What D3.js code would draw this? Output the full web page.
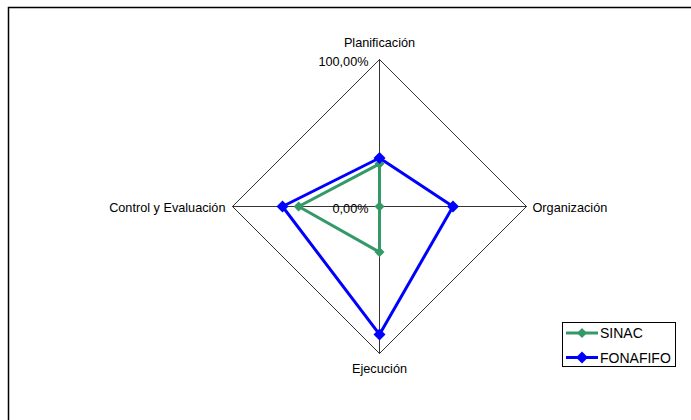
<!DOCTYPE html>
<html>
<head>
<meta charset="utf-8">
<script src="https://cdn.jsdelivr.net/npm/d3@7/dist/d3.min.js"></script>
<style>
  body { margin: 0; background: #fff; }
  text { font-family: "Liberation Sans", Arial, sans-serif; font-size: 12.7px; fill: #000; }
  .legend-text { font-size: 14px; }
</style>
</head>
<body>
<svg></svg>
<script>
'use strict';
// chart data
var categories = ['Planificación', 'Organización', 'Ejecución', 'Control y Evaluación'];
var seriesNames = ['SINAC', 'FONAFIFO'];
var sinacValues = [0.29, 0.00, 0.31, 0.55];
var fonafifoValues = [0.33, 0.50, 0.87, 0.66];
var tickValues = [0, 1];
var tickLabels = ['0,00%', '100,00%'];

var canvasWidth = 691;
var canvasHeight = 420;
var cx = 379.5;
var cy = 206.5;
var radius = 147;

var svg = d3.select('svg')
  .attr('width', canvasWidth)
  .attr('height', canvasHeight);

// outer frame
svg.append('rect')
  .attr('x', 8.5).attr('y', 7.5)
  .attr('width', 700).attr('height', 430)
  .attr('fill', 'none')
  .attr('stroke', '#000')
  .attr('stroke-width', 1.5);

var rScale = d3.scaleLinear().domain([0, 1]).range([0, radius]);
var angle = d3.scaleLinear().domain([0, categories.length]).range([0, 2 * Math.PI]);

function point(i, v) {
  var a = angle(i);
  return [cx + rScale(v) * Math.sin(a), cy - rScale(v) * Math.cos(a)];
}

var chart = svg.append('g');

// outer grid (100% level)
chart.append('path')
  .attr('d', d3.line()(categories.map(function(c, i) { return point(i, 1); })) + 'Z')
  .attr('fill', 'none')
  .attr('stroke', '#000')
  .attr('stroke-width', 0.8);

// spokes
chart.selectAll('.spoke').data(categories).enter().append('line')
  .attr('class', 'spoke')
  .attr('x1', cx).attr('y1', cy)
  .attr('x2', function(d, i) { return point(i, 1)[0]; })
  .attr('y2', function(d, i) { return point(i, 1)[1]; })
  .attr('stroke', '#000')
  .attr('stroke-width', 0.8);

// axis tick labels on the top spoke
chart.selectAll('.tick').data(tickValues).enter().append('text')
  .attr('class', 'tick')
  .attr('x', cx - 11)
  .attr('y', function(d) { return cy - rScale(d) + 6; })
  .attr('text-anchor', 'end')
  .text(function(d, i) { return tickLabels[i]; });

// category labels
var labelPos = [
  { dx: 0, dy: -13, anchor: 'middle' },
  { dx: 6, dy: 5, anchor: 'start' },
  { dx: 0, dy: 19, anchor: 'middle' },
  { dx: -7, dy: 5, anchor: 'end' }
];
chart.selectAll('.cat').data(categories).enter().append('text')
  .attr('class', 'cat')
  .attr('x', function(d, i) { return point(i, 1)[0] + labelPos[i].dx; })
  .attr('y', function(d, i) { return point(i, 1)[1] + labelPos[i].dy; })
  .attr('text-anchor', function(d, i) { return labelPos[i].anchor; })
  .text(function(d) { return d; });

var series = [
  { name: seriesNames[0], values: sinacValues, color: '#339966', size: 5 },
  { name: seriesNames[1], values: fonafifoValues, color: '#0000FF', size: 6 }
];

function diamond(x, y, s) {
  return 'M' + x + ',' + (y - s) + 'L' + (x + s) + ',' + y + 'L' + x + ',' + (y + s) + 'L' + (x - s) + ',' + y + 'Z';
}

series.forEach(function(s) {
  var pts = s.values.map(function(v, i) { return point(i, v); });
  chart.append('path')
    .attr('d', d3.line()(pts) + 'Z')
    .attr('fill', 'none')
    .attr('stroke', s.color)
    .attr('stroke-width', 3)
    .attr('stroke-linejoin', 'round');
  chart.selectAll(null).data(pts).enter().append('path')
    .attr('d', function(p) { return diamond(p[0], p[1], s.size); })
    .attr('fill', s.color);
});

// legend
var legend = svg.append('g');
legend.append('rect')
  .attr('x', 562.5).attr('y', 322.5)
  .attr('width', 113).attr('height', 44)
  .attr('fill', '#fff')
  .attr('stroke', '#000')
  .attr('stroke-width', 1);
series.forEach(function(s, i) {
  var y = 333 + i * 24.5;
  legend.append('line')
    .attr('x1', 566).attr('x2', 598)
    .attr('y1', y).attr('y2', y)
    .attr('stroke', s.color)
    .attr('stroke-width', 3);
  legend.append('path')
    .attr('d', diamond(582, y, s.size))
    .attr('fill', s.color);
  legend.append('text')
    .attr('class', 'legend-text')
    .attr('x', 600).attr('y', y + 5)
    .text(s.name);
});
</script>
</body>
</html>
